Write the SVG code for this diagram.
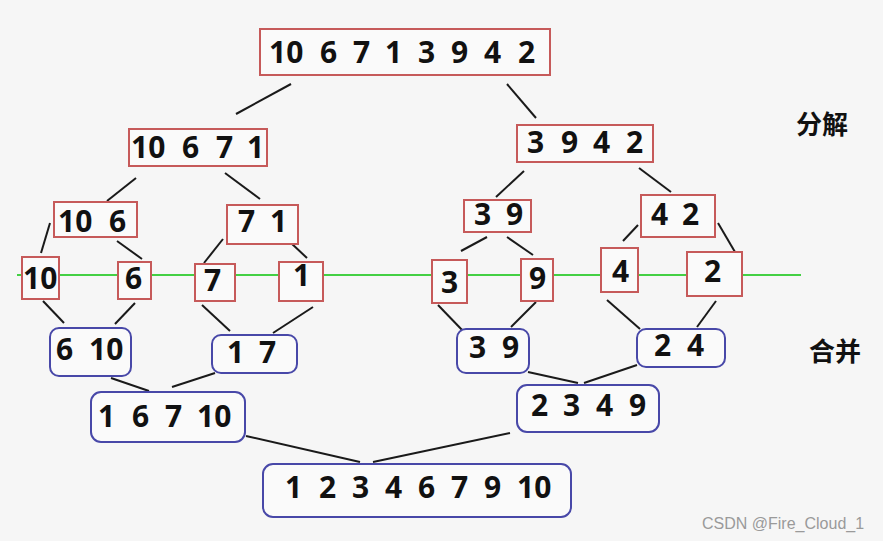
<svg xmlns="http://www.w3.org/2000/svg" width="883" height="541" viewBox="0 0 883 541">
<style>
.bg{fill:#f6f6f6}
.split{fill:#fafafa;stroke:#c65a5a;stroke-width:2}
.merge{fill:#fafafa;stroke:#4848a8;stroke-width:2}
.num{font-family:"Noto Sans","DejaVu Sans",sans-serif;font-weight:bold;font-size:30px;fill:#111}
.cn{font-family:"Noto Sans CJK SC",sans-serif;font-weight:bold;font-size:26px;fill:#111}
.wm{font-family:"Liberation Sans",Arial,sans-serif;font-size:16px;fill:#9a9a9a}
#connectors line{stroke:#1a1a1a;stroke-width:2}
</style>
<rect class="bg" x="0" y="0" width="883" height="541"/>
<g id="connectors">
<line x1="291" y1="84" x2="236" y2="114"/>
<line x1="507" y1="84" x2="536" y2="118"/>
<line x1="136" y1="178" x2="107" y2="201"/>
<line x1="225" y1="173" x2="260" y2="199"/>
<line x1="524" y1="171" x2="496" y2="197"/>
<line x1="639" y1="168" x2="671" y2="192"/>
<line x1="50" y1="223" x2="41" y2="253"/>
<line x1="117" y1="241" x2="142" y2="259"/>
<line x1="223" y1="239" x2="204" y2="263"/>
<line x1="291" y1="243" x2="307" y2="258"/>
<line x1="487" y1="237" x2="461" y2="251"/>
<line x1="507" y1="237" x2="533" y2="255"/>
<line x1="638" y1="225" x2="623" y2="241"/>
<line x1="718" y1="223" x2="735" y2="252"/>
<line x1="43" y1="301" x2="64" y2="323"/>
<line x1="135" y1="303" x2="115" y2="324"/>
<line x1="202" y1="305" x2="230" y2="331"/>
<line x1="313" y1="307" x2="273" y2="333"/>
<line x1="438" y1="305" x2="464" y2="332"/>
<line x1="536" y1="302" x2="511" y2="327"/>
<line x1="607" y1="300" x2="640" y2="329"/>
<line x1="716" y1="301" x2="697" y2="327"/>
<line x1="111" y1="378" x2="149" y2="391"/>
<line x1="215" y1="373" x2="172" y2="387"/>
<line x1="528" y1="372" x2="578" y2="383"/>
<line x1="637" y1="365" x2="584" y2="383"/>
<line x1="246" y1="436" x2="360" y2="462"/>
<line x1="510" y1="433" x2="373" y2="462"/>
</g>
<line x1="17" y1="275" x2="801" y2="275" stroke="#44d044" stroke-width="2"/>
<g id="n-root"><rect class="split" x="260" y="29" width="290" height="46"/><text class="num" y="63" font-size="31"><tspan x="269">10</tspan><tspan x="320">6</tspan><tspan x="353">7</tspan><tspan x="385">1</tspan><tspan x="418">3</tspan><tspan x="451">9</tspan><tspan x="484">4</tspan><tspan x="518">2</tspan></text></g>
<g id="n-10671"><rect class="split" x="129" y="129" width="138" height="37"/><text class="num" y="158"><tspan x="131">10</tspan><tspan x="182">6</tspan><tspan x="216">7</tspan><tspan x="247">1</tspan></text></g>
<g id="n-3942"><rect class="split" x="517" y="125" width="136" height="37"/><text class="num" y="153"><tspan x="527">3</tspan><tspan x="561">9</tspan><tspan x="593">4</tspan><tspan x="626">2</tspan></text></g>
<g id="n-106"><rect class="split" x="54" y="202" width="83" height="35"/><text class="num" y="232"><tspan x="58">10</tspan><tspan x="109">6</tspan></text></g>
<g id="n-71"><rect class="split" x="227" y="205" width="71" height="39"/><text class="num" y="232"><tspan x="238">7</tspan><tspan x="270">1</tspan></text></g>
<g id="n-39"><rect class="split" x="464" y="200" width="67" height="32"/><text class="num" y="225"><tspan x="474">3</tspan><tspan x="506">9</tspan></text></g>
<g id="n-42"><rect class="split" x="641" y="195" width="74" height="42"/><text class="num" y="225"><tspan x="651">4</tspan><tspan x="682">2</tspan></text></g>
<g id="n-l10"><rect class="split" x="22" y="257" width="37" height="42"/><text class="num" x="23" y="289">10</text></g>
<g id="n-l6"><rect class="split" x="118" y="262" width="33" height="37"/><text class="num" x="125" y="289">6</text></g>
<g id="n-l7"><rect class="split" x="195" y="264" width="40" height="37"/><text class="num" x="204" y="291">7</text></g>
<g id="n-l1"><rect class="split" x="279" y="262" width="44" height="39"/><text class="num" x="293" y="286">1</text></g>
<g id="n-l3"><rect class="split" x="432" y="260" width="35" height="43"/><text class="num" x="441" y="293">3</text></g>
<g id="n-l9"><rect class="split" x="521" y="259" width="32" height="42"/><text class="num" x="529" y="289">9</text></g>
<g id="n-l4"><rect class="split" x="601" y="248" width="37" height="44"/><text class="num" x="612" y="282">4</text></g>
<g id="n-l2"><rect class="split" x="687" y="252" width="55" height="44"/><text class="num" x="704" y="282">2</text></g>
<g id="n-m610"><rect class="merge" x="50" y="328" width="81" height="48" rx="9"/><text class="num" y="360"><tspan x="56">6</tspan><tspan x="89">10</tspan></text></g>
<g id="n-m17"><rect class="merge" x="212" y="335" width="85" height="38" rx="9"/><text class="num" y="363"><tspan x="227">1</tspan><tspan x="259">7</tspan></text></g>
<g id="n-m39"><rect class="merge" x="457" y="329" width="72" height="44" rx="9"/><text class="num" y="358"><tspan x="469">3</tspan><tspan x="502">9</tspan></text></g>
<g id="n-m24"><rect class="merge" x="637" y="329" width="88" height="38" rx="9"/><text class="num" y="356"><tspan x="654">2</tspan><tspan x="687">4</tspan></text></g>
<g id="n-m16710"><rect class="merge" x="91" y="392" width="154" height="50" rx="10"/><text class="num" y="427"><tspan x="98">1</tspan><tspan x="132">6</tspan><tspan x="165">7</tspan><tspan x="197">10</tspan></text></g>
<g id="n-m2349"><rect class="merge" x="517" y="385" width="142" height="47" rx="10"/><text class="num" y="416"><tspan x="531">2</tspan><tspan x="563">3</tspan><tspan x="596">4</tspan><tspan x="629">9</tspan></text></g>
<g id="n-final"><rect class="merge" x="263" y="464" width="308" height="53" rx="10"/><text class="num" y="498"><tspan x="285">1</tspan><tspan x="319">2</tspan><tspan x="352">3</tspan><tspan x="385">4</tspan><tspan x="418">6</tspan><tspan x="451">7</tspan><tspan x="484">9</tspan><tspan x="517">10</tspan></text></g>
<text class="cn" x="796" y="134">分解</text>
<text class="cn" x="809" y="361">合并</text>
<text class="wm" x="702" y="529">CSDN @Fire_Cloud_1</text>
</svg>
